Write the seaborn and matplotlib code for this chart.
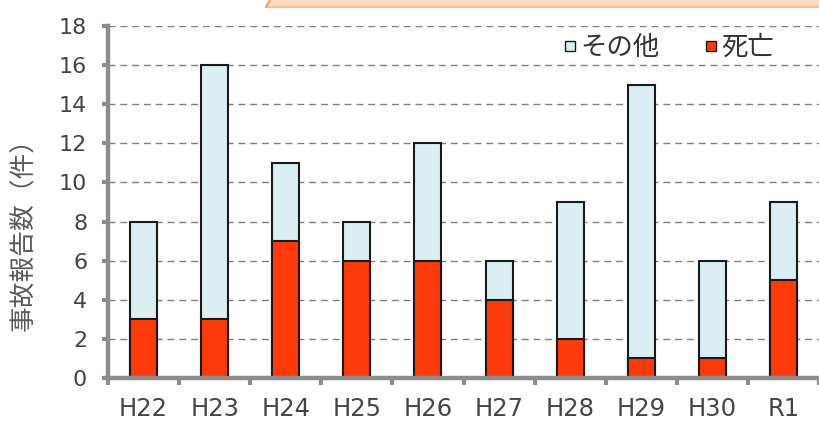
import matplotlib
matplotlib.use("Agg")
import matplotlib.pyplot as plt
from matplotlib.patches import Polygon
from matplotlib.lines import Line2D
import seaborn as sns
import pandas as pd
import numpy as np

years = ["H22", "H23", "H24", "H25", "H26", "H27", "H28", "H29", "H30", "R1"]
deaths = [3, 3, 7, 6, 6, 4, 2, 1, 1, 5]
others = [5, 13, 4, 2, 6, 2, 7, 14, 5, 4]

totals = [d + o for d, o in zip(deaths, others)]
df = pd.DataFrame({"year": years, "death": deaths, "total": totals})

sns.set_theme(style="white")
plt.rcParams["font.family"] = ["Noto Sans CJK JP", "DejaVu Sans"]

fig = plt.figure(figsize=(8.19, 4.23), dpi=100)
W, H = 819, 423
ax = fig.add_axes([108 / W, 45 / H, (W - 108) / W, (378 - 26) / H])

blue = "#DAEEF3"
red = "#FF3A0A"
grey = "#8C8C8C"

# stacked bars: total height in light blue, deaths over it in red
sns.barplot(data=df, x="year", y="total", color=blue, width=0.38,
            edgecolor="#1a1a1a", linewidth=1.5, saturation=1, ax=ax, zorder=3)
sns.barplot(data=df, x="year", y="death", color=red, width=0.38,
            edgecolor="#1a1a1a", linewidth=1.5, saturation=1, ax=ax, zorder=4)

ax.set_xlim(-0.453, 9.46)
ax.set_ylim(0, 18)
ax.set_yticks(np.arange(0, 19, 2))
ax.set_xlabel("")
ax.set_ylabel("")
fig.text(24 / W, 1 - 228 / H, "事故報告数（件）", rotation=90, fontsize=18.5,
         color="#5a5a5a", ha="center", va="center")

for y in range(2, 19, 2):
    ax.axhline(y, color="#808080", linestyle=(0, (5, 3.5)), linewidth=1.0, zorder=1)

for s in ["top", "right"]:
    ax.spines[s].set_visible(False)
for s in ["left", "bottom"]:
    ax.spines[s].set_color(grey)
    ax.spines[s].set_linewidth(3.2)
    ax.spines[s].set_zorder(5)

ax.tick_params(axis="y", which="major", length=4, width=3, color=grey,
               labelsize=16, labelcolor="#454545", pad=11, direction="out", left=True)
ax.tick_params(axis="x", which="major", length=0, labelsize=17.5,
               labelcolor="#454545", pad=14)
ax.set_xticks(np.arange(-0.5, 10, 1), minor=True)
ax.tick_params(axis="x", which="minor", length=5, width=3, color=grey, bottom=True)
for lbl in ax.get_xticklabels() + ax.get_yticklabels():
    lbl.set_fontfamily(["DejaVu Sans"])

# legend
handles = [
    Line2D([], [], marker="s", linestyle="none", markersize=7.5,
           markerfacecolor=blue, markeredgecolor="#1a1a1a", markeredgewidth=1.0),
    Line2D([], [], marker="s", linestyle="none", markersize=7.5,
           markerfacecolor=red, markeredgecolor="#1a1a1a", markeredgewidth=1.0),
]
leg = ax.legend(handles, ["その他", "死亡"], loc="upper right",
                bbox_to_anchor=((798 - 108) / (W - 108), 1.0 + 16 / 352),
                ncol=2, frameon=False, fontsize=19, handletextpad=0.05,
                columnspacing=1.6, handlelength=0.7)
for t in leg.get_texts():
    t.set_color("#333333")

# banner strip along the top edge
fig.patches.append(Polygon([(270 / W, 1.0), (1.0, 1.0), (1.0, 416 / H), (266 / W, 416 / H)],
                           closed=True, transform=fig.transFigure,
                           facecolor="#FCDDC4", edgecolor="none", zorder=0))
fig.lines.append(Line2D([266 / W, 1.0], [416 / H, 416 / H], transform=fig.transFigure,
                        color="#F6C29A", linewidth=1.5))
fig.lines.append(Line2D([266 / W, 270 / W], [416 / H, 1.0], transform=fig.transFigure,
                        color="#F0A060", linewidth=1.5))

fig.savefig("out.png", dpi=100)
